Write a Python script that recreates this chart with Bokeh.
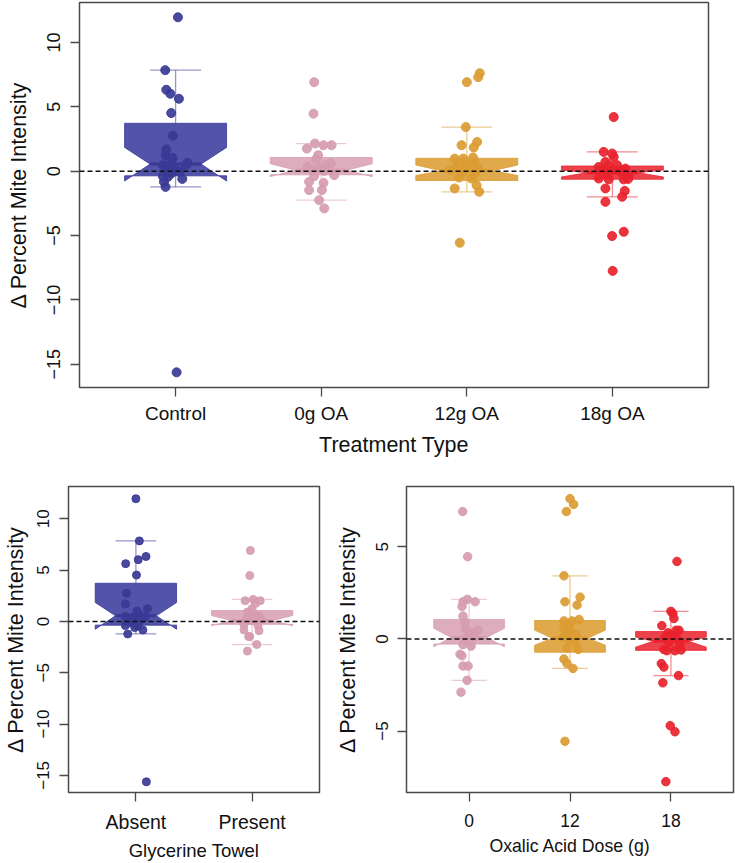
from bokeh.plotting import figure
from bokeh.layouts import column, row
from bokeh.models import Range1d, FixedTicker, Span
from bokeh.embed import file_html
from bokeh.resources import INLINE

# ---------------- data ----------------
top_categories = ["Control", "0g OA", "12g OA", "18g OA"]
towel_categories = ["Absent", "Present"]
dose_categories = ["0", "12", "18"]

top_y_ticks = [-15, -10, -5, 0, 5, 10]
towel_y_ticks = [-15, -10, -5, 0, 5, 10]
dose_y_ticks = [-5, 0, 5]

control_values = [11.96, 7.85, 6.33, 6.02, 5.63, 4.52, 2.75, 1.70, 1.24, 1.02, 0.65, 0.45,
                  0.47, 0.47, 0.20, 0.02, -0.05, -0.18, -0.39, -0.44, -0.60, -0.83, -1.22, -15.63]
oa0_values = [6.92, 4.47, 2.15, 2.02, 2.02, 1.76, 1.24, 0.91, 0.60, 0.47, 0.33, 0.20,
              0.08, 0.02, -0.31, -0.39, -0.83, -0.91, -1.47, -1.47, -2.25, -2.89]
oa12_values = [7.62, 7.31, 6.92, 3.43, 2.27, 2.02, 1.84, 0.98, 0.98, 1.06, 0.60, 0.60,
               0.29, 0.29, 0.21, 0.08, -0.05, -0.18, -0.49, -0.57, -1.09, -1.34, -1.60, -5.56]
oa18_values = [4.21, 1.50, 1.37, 1.11, 0.72, 0.47, 0.33, 0.47, 0.20, 0.08, 0.08, -0.05,
               -0.18, -0.31, -0.57, -0.64, -0.64, -0.60, -1.34, -1.53, -1.99, -2.38, -5.04, -4.71, -7.75]

# horizontal jitter of each point (category units)
control_jitter_top = [0.016, -0.071, -0.064, -0.036, 0.023, -0.030, -0.019, -0.064, -0.069, -0.019, 0.083, 0.069,
                      -0.087, -0.046, -0.007, -0.069, 0.028, -0.030, -0.087, -0.053, 0.046, -0.080, -0.069, 0.007]
control_jitter_towel = [0.0, 0.03, 0.087, 0.02, -0.088, 0.005, -0.08, -0.09, 0.10, 0.01, 0.03, -0.02,
                        -0.09, 0.08, 0.05, -0.06, 0.0, -0.03, -0.09, 0.02, -0.01, 0.06, -0.07, 0.09]
oa0_jitter_top = [-0.048, -0.053, -0.043, 0.016, 0.071, -0.098, -0.021, -0.036, 0.067, 0.032, -0.094,
                  -0.014, -0.060, 0.021, 0.089, -0.048, -0.083, 0.016, -0.083, 0.005, -0.014, 0.021]
oa0_jitter_towel = [-0.015, -0.02, 0.01, -0.06, 0.07, 0.03, 0.0, -0.04, 0.06, 0.02, -0.05,
                    0.08, -0.01, 0.03, -0.07, 0.05, -0.07, 0.06, -0.03, -0.02, 0.04, -0.04]
oa0_jitter_dose = [-0.063, -0.014, -0.017, -0.06, 0.06, -0.07, -0.06, -0.04, -0.04, 0.09, 0.03,
                   0.0, 0.05, -0.03, -0.06, 0.02, -0.09, -0.07, -0.06, -0.01, -0.02, -0.08]
oa12_jitter_top = [0.089, 0.078, 0.0, -0.007, 0.071, -0.036, 0.048, -0.083, -0.025, 0.043, -0.014, 0.055,
                   -0.071, 0.021, 0.078, -0.117, -0.025, 0.055, -0.053, 0.032, 0.067, -0.083, 0.085, -0.048]
oa12_jitter_dose = [0.0, 0.036, -0.036, -0.06, 0.10, -0.05, 0.07, 0.02, -0.06, 0.09, -0.06, -0.01,
                    0.03, -0.03, 0.06, -0.07, 0.0, 0.05, -0.03, 0.08, -0.06, -0.03, 0.03, -0.05]
oa18_jitter_top = [0.009, -0.060, -0.002, 0.009, -0.048, -0.025, -0.094, 0.032, 0.089, -0.071, -0.002, 0.055,
                   -0.036, 0.112, -0.094, -0.025, 0.078, 0.108, -0.048, 0.085, 0.067, -0.048, -0.002, 0.078, 0.002]
oa18_jitter_dose = [0.06, 0.0, 0.02, 0.03, -0.09, 0.05, -0.03, 0.08, 0.0, -0.06, 0.03, 0.07,
                    -0.02, 0.09, -0.07, -0.04, 0.04, 0.10, -0.095, -0.07, 0.075, -0.08, 0.04, -0.007, -0.05]

# notched box statistics, order: Control, 0g OA, 12g OA, 18g OA
box_q1 = [-0.36, -0.28, -0.72, -0.62]
box_notch_lo = [-0.76, -0.42, -0.34, -0.45]
box_median = [0.55, 0.08, 0.04, -0.12]
box_notch_hi = [1.85, 0.58, 0.48, 0.10]
box_q3 = [3.72, 1.06, 1.00, 0.40]
whisker_lo = [-1.22, -2.25, -1.60, -1.99]
whisker_hi = [7.85, 2.15, 3.43, 1.50]

# ---------------- styling ----------------
FONT = "Liberation Sans"
point_colors = ["#393996", "#D69CB0", "#DB9C33", "#E8232E"]
box_colors = ["#4040A0", "#D9A3B6", "#DDA038", "#EA2D37"]
FRAME = "#4a4a4a"


def style(p, tick_px, title_x_px, title_y_px, ytick_px, ls_x, ts_x, ls_y, ts_y):
    p.grid.visible = False
    p.outline_line_color = FRAME
    p.outline_line_width = 1.5
    p.background_fill_color = "white"
    p.border_fill_color = "white"
    for ax in (p.xaxis[0], p.yaxis[0]):
        ax.axis_line_color = None
        ax.major_tick_line_color = FRAME
        ax.major_tick_line_width = 1.3
        ax.major_tick_in = 0
        ax.major_tick_out = 9
        ax.minor_tick_line_color = None
        ax.major_label_text_font = FONT
        ax.axis_label_text_font = FONT
        ax.axis_label_text_font_style = "normal"
        ax.major_label_text_color = "#111111"
        ax.axis_label_text_color = "#111111"
    p.xaxis.major_label_text_font_size = tick_px
    p.xaxis.axis_label_text_font_size = title_x_px
    p.yaxis.axis_label_text_font_size = title_y_px
    p.yaxis.major_label_text_font_size = ytick_px
    p.yaxis.major_label_orientation = "vertical"
    p.xaxis.major_label_standoff = ls_x
    p.xaxis.axis_label_standoff = ts_x
    p.yaxis.major_label_standoff = ls_y
    p.yaxis.axis_label_standoff = ts_y
    p.add_layout(Span(location=0, dimension="width", line_color="#111111",
                      line_dash="5 3", line_width=1.4))


def add_group(p, xpos, i, values, jitter, size):
    w = 0.35
    nf = 0.5
    sw = 0.175
    xs = [xpos - w, xpos + w, xpos + w, xpos + w * nf, xpos + w, xpos + w,
          xpos - w, xpos - w, xpos - w * nf, xpos - w]
    ys = [box_q1[i], box_q1[i], box_notch_lo[i], box_median[i], box_notch_hi[i], box_q3[i],
          box_q3[i], box_notch_hi[i], box_median[i], box_notch_lo[i]]
    p.patch(xs, ys, fill_color=box_colors[i], fill_alpha=0.9,
            line_color=box_colors[i], line_alpha=0.9, line_width=1)
    # median
    p.segment(x0=[xpos - w * nf], y0=[box_median[i]], x1=[xpos + w * nf], y1=[box_median[i]],
              line_color=point_colors[i], line_width=3)
    # whiskers + staples
    p.segment(x0=[xpos, xpos], y0=[box_q3[i], box_q1[i]], x1=[xpos, xpos],
              y1=[whisker_hi[i], whisker_lo[i]], line_color=box_colors[i], line_alpha=0.55, line_width=1.3)
    p.segment(x0=[xpos - sw, xpos - sw], y0=[whisker_hi[i], whisker_lo[i]],
              x1=[xpos + sw, xpos + sw], y1=[whisker_hi[i], whisker_lo[i]],
              line_color=box_colors[i], line_alpha=0.55, line_width=1.3)
    p.scatter(x=[xpos + j for j in jitter], y=values, size=size, marker="circle",
              fill_color=point_colors[i], line_color=point_colors[i], fill_alpha=0.92, line_alpha=0.92)


def ticks(p, labels, yticks):
    pos = list(range(1, len(labels) + 1))
    p.xaxis.ticker = FixedTicker(ticks=pos)
    p.xaxis.major_label_overrides = {k: lab for k, lab in zip(pos, labels)}
    p.yaxis.ticker = FixedTicker(ticks=yticks)


# ---------------- top panel ----------------
top = figure(width=728, height=462, x_range=Range1d(0.34, 4.66), y_range=Range1d(-16.81, 13.11),
             output_backend="svg", toolbar_location=None,
             min_border_left=79, min_border_right=20, min_border_top=2, min_border_bottom=75)
top.xaxis.axis_label = "Treatment Type"
top.yaxis.axis_label = "\u0394 Percent Mite Intensity"
style(top, "19px", "21.5px", "21.5px", "18px", 6, 6, 10, 14)
ticks(top, top_categories, top_y_ticks)
all_values = [control_values, oa0_values, oa12_values, oa18_values]
top_jitters = [control_jitter_top, oa0_jitter_top, oa12_jitter_top, oa18_jitter_top]
for k in range(4):
    add_group(top, k + 1, k, all_values[k], top_jitters[k], 9)

# ---------------- bottom-left panel ----------------
bl = figure(width=332, height=401, x_range=Range1d(0.42, 2.58), y_range=Range1d(-16.67, 13.15),
            output_backend="svg", toolbar_location=None,
            min_border_left=67, min_border_right=13, min_border_top=13, min_border_bottom=63)
bl.xaxis.axis_label = "Glycerine Towel"
bl.yaxis.axis_label = "\u0394 Percent Mite Intensity"
style(bl, "19.5px", "18.5px", "21.5px", "17px", 9, 4, 10, 7)
ticks(bl, towel_categories, towel_y_ticks)
add_group(bl, 1, 0, control_values, control_jitter_towel, 8)
add_group(bl, 2, 1, oa0_values, oa0_jitter_towel, 8)

# ---------------- bottom-right panel ----------------
br = figure(width=403, height=401, x_range=Range1d(0.38, 3.62), y_range=Range1d(-8.34, 8.28),
            output_backend="svg", toolbar_location=None,
            min_border_left=71, min_border_right=2, min_border_top=24, min_border_bottom=65)
br.xaxis.axis_label = "Oxalic Acid Dose (g)"
br.yaxis.axis_label = "\u0394 Percent Mite Intensity"
style(br, "17.5px", "17.7px", "21.5px", "17px", 12, 6, 9, 14)
ticks(br, dose_categories, dose_y_ticks)
dose_values = [oa0_values, oa12_values, oa18_values]
dose_jitters = [oa0_jitter_dose, oa12_jitter_dose, oa18_jitter_dose]
for k in range(3):
    add_group(br, k + 1, k + 1, dose_values[k], dose_jitters[k], 8.5)

layout = column(top, row(bl, br))
open("out.html", "w").write(file_html(layout, INLINE))
